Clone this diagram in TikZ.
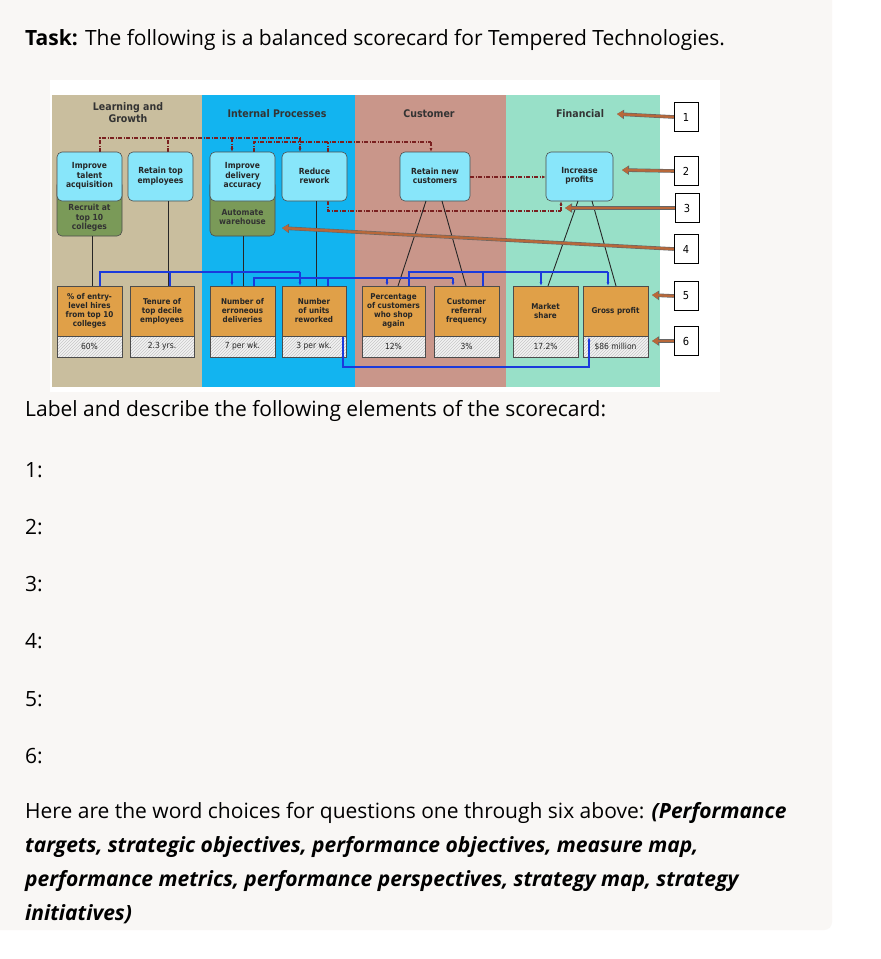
\documentclass[tikz,border=0pt]{standalone}
\usepackage{fontspec}
\setmainfont{Open Sans}
\newfontfamily\scfnt{DejaVu Sans Condensed}
\usetikzlibrary{patterns,arrows.meta}
\definecolor{tanc}{HTML}{C9BE9E}
\definecolor{bluec}{HTML}{12B4F0}
\definecolor{salc}{HTML}{C9968A}
\definecolor{grnc}{HTML}{98E0C8}
\definecolor{objc}{HTML}{88E6FA}
\definecolor{inic}{HTML}{7A9A58}
\definecolor{meac}{HTML}{E0A048}
\definecolor{dred}{HTML}{7A2020}
\definecolor{bline}{HTML}{1A3ADC}
\definecolor{brn}{HTML}{B8683A}
\definecolor{card}{HTML}{F9F7F5}
\begin{document}
\begin{tikzpicture}[x=1pt,y=-1pt,
  obj/.style={draw=black!70,fill=objc,rounded corners=5pt,line width=0.6pt},
  ini/.style={draw=black!70,fill=inic,rounded corners=5pt,line width=0.6pt},
  mea/.style={draw=black!70,fill=meac,line width=0.6pt},
  val/.style={draw=black!70,pattern color=black!22,line width=0.6pt},
  st/.style={font=\scfnt\bfseries\fontsize{8.4}{9.6}\selectfont,align=center,text=black!85},
  hd/.style={font=\scfnt\bfseries\fontsize{10.5}{12}\selectfont,align=center,text=black!80},
  dd/.style={draw=dred,dash pattern=on 4pt off 1.5pt on 1pt off 1.5pt,line width=1.1pt},
  bl/.style={draw=bline,line width=1.1pt},
  blk/.style={draw=black!85,line width=0.9pt},
  num/.style={draw=black,fill=white,minimum width=24pt,minimum height=29pt,inner sep=0pt,font=\scfnt\fontsize{11}{11}\selectfont},
  ba/.style={draw=black!60,line width=3.6pt,-{Triangle[length=7pt,width=9pt]}},
  bi/.style={draw=brn,line width=2.4pt,-{Triangle[length=6pt,width=7pt]}},
  tx/.style={font=\fontsize{21}{25}\selectfont,anchor=west,inner sep=0pt}
]
\useasboundingbox (0,0) rectangle (881,959);
\fill[white] (0,0) rectangle (881,959);
\fill[card,rounded corners=8pt] (-10,-10) rectangle (832,930);
\fill[white] (50,80) rectangle (720,392);
\fill[tanc] (52,95) rectangle (202,387);
\fill[bluec] (202,95) rectangle (355,387);
\fill[salc] (355,95) rectangle (506,387);
\fill[grnc] (506,95) rectangle (660,387);
\node[hd] (h1) at (128,113) {Learning and\\Growth};
\node[hd] (h2) at (277,114) {Internal Processes};
\node[hd] (h3) at (429,114) {Customer};
\node[hd] (h4) at (580,114) {Financial};
% dashed links
\draw[dd] (100,152) -- (100,138) -- (300,138);
\draw[dd] (168,152) -- (168,138);
\draw[dd,-{Latex[length=4pt]}] (232,138) -- (232,152);
\draw[dd,-{Latex[length=4pt]}] (300,138) -- (300,152);
\draw[dd] (254,152) -- (254,142) -- (431,142);
\draw[dd] (328,152) -- (328,142);
\draw[dd,-{Latex[length=4pt]}] (431,142) -- (431,152);
\draw[dd] (328,201) -- (328,211) -- (561,211);
\draw[dd,-{Latex[length=4pt]}] (561,211) -- (561,201);
% initiatives & objectives
\draw[ini] (57,180) rectangle (122,236);
\draw[ini] (210,180) rectangle (275,236);
\node[st,text=black!80] (i1) at (89.5,218) {Recruit at\\top 10\\colleges};
\node[st,text=black!80] (i2) at (242.5,217) {Automate\\warehouse};
\draw[obj] (57,152) rectangle (122,201); \node[st] (o1) at (89.5,176) {Improve\\talent\\acquisition};
\draw[obj] (128,152) rectangle (193,201); \node[st] (o2) at (160.5,176) {Retain top\\employees};
\draw[obj] (210,152) rectangle (275,201); \node[st] (o3) at (242.5,176) {Improve\\delivery\\accuracy};
\draw[obj] (282,152) rectangle (347,201); \node[st] (o4) at (314.5,176) {Reduce\\rework};
\draw[obj] (400,152) rectangle (470,201); \node[st] (o5) at (435,176) {Retain new\\customers};
\draw[obj] (546,152) rectangle (613,201); \node[st] (o6) at (579.5,176) {Increase\\profits};
\draw[dd,-{Latex[length=4pt]}] (470,177) -- (546,177);
% black links
\draw[blk] (92,236) -- (92,286);
\draw[blk] (168,201) -- (168,286);
\draw[blk] (243,236) -- (243,286);
\draw[blk] (316,201) -- (316,286);
\draw[blk] (426,201) -- (398,286);
\draw[blk] (442,201) -- (466,286);
\draw[blk] (578,201) -- (548,286);
\draw[blk] (592,201) -- (616,286);
% blue links
\draw[bl] (100,286) -- (100,272) -- (300,272);
\draw[bl] (170,286) -- (170,272);
\draw[bl,-{Latex[length=4pt]}] (232,272) -- (232,286);
\draw[bl,-{Latex[length=4pt]}] (300,272) -- (300,286);
\draw[bl] (254,286) -- (254,278) -- (453,278);
\draw[bl] (328,286) -- (328,278);
\draw[bl,-{Latex[length=4pt]}] (387,278) -- (387,286);
\draw[bl,-{Latex[length=4pt]}] (453,278) -- (453,286);
\draw[bl] (409,286) -- (409,272) -- (608,272);
\draw[bl] (483,286) -- (483,272);
\draw[bl,-{Latex[length=4pt]}] (541,272) -- (541,286);
\draw[bl,-{Latex[length=4pt]}] (608,272) -- (608,286);
% measures
\foreach \a/\b/\t/\v [count=\i] in {57/122/{\% of entry-\\level hires\\from top 10\\colleges}/60\%,
  130/194/{Tenure of\\top decile\\employees}/2.3 yrs.,
  210/275/{Number of\\erroneous\\deliveries}/7 per wk.,
  282/346/{Number\\of units\\reworked}/3 per wk.,
  362/425/{Percentage\\of customers\\who shop\\again}/12\%,
  434/499/{Customer\\referral\\frequency}/3\%,
  513/578/{Market\\share}/17.2\%,
  583/648/{Gross profit}/\$86 million}{
  \draw[mea] (\a,286) rectangle (\b,336);
  \fill[black!5] (\a,336) rectangle (\b,357);
  \draw[val,pattern=north east lines] (\a,336) rectangle (\b,357);
  \node[st,inner sep=0pt,font=\scfnt\bfseries\fontsize{8}{9}\selectfont] (m\i) at ({(\a+\b)/2},311) {\t};
  \node[st,font=\scfnt\fontsize{8.4}{9}\selectfont] (v\i) at ({(\a+\b)/2},346.5) {\v};
}
\draw[bl,-{Latex[length=4pt]}] (343,337) -- (343,367) -- (589,367) -- (589,337);
% numbered boxes and brown arrows
\node[num] (n1) at (686,117) {1};
\node[num] (n2) at (686,171) {2};
\node[num] (n3) at (687,208) {3};
\node[num] (n4) at (686,249) {4};
\node[num] (n5) at (686,296) {5};
\node[num] (n6) at (686,341) {6};
\coordinate (t1) at (617,114);
\coordinate (t2) at (622,170);
\coordinate (t3) at (565,208);
\coordinate (t4) at (282,228);
\coordinate (t5) at (652,295);
\coordinate (t6) at (652,341);
\foreach \n in {1,2,3,4,5,6}{
  \draw[ba] (n\n.west) -- (t\n);
  \draw[bi] (n\n.west) -- (t\n);
}
% texts
\node[tx] (task) at (25,40) {\textbf{Task:} The following is a balanced scorecard for Tempered Technologies.};
\node[tx] (lab) at (25,411) {Label and describe the following elements of the scorecard:};
\node[tx] (q1) at (25,470) {1:};
\node[tx] (q2) at (25,527) {2:};
\node[tx] (q3) at (25,584) {3:};
\node[tx] (q4) at (25,641) {4:};
\node[tx] (q5) at (25,699) {5:};
\node[tx] (q6) at (25,756) {6:};
\node[tx] (w1) at (25,813) {Here are the word choices for questions one through six above: \textbf{\textit{(Performance}}};
\node[tx] (w2) at (25,847) {\textbf{\textit{targets, strategic objectives, performance objectives, measure map,}}};
\node[tx] (w3) at (25,881) {\textbf{\textit{performance metrics, performance perspectives, strategy map, strategy}}};
\node[tx] (w4) at (25,914) {\textbf{\textit{initiatives)}}};
\end{tikzpicture}
\end{document}
